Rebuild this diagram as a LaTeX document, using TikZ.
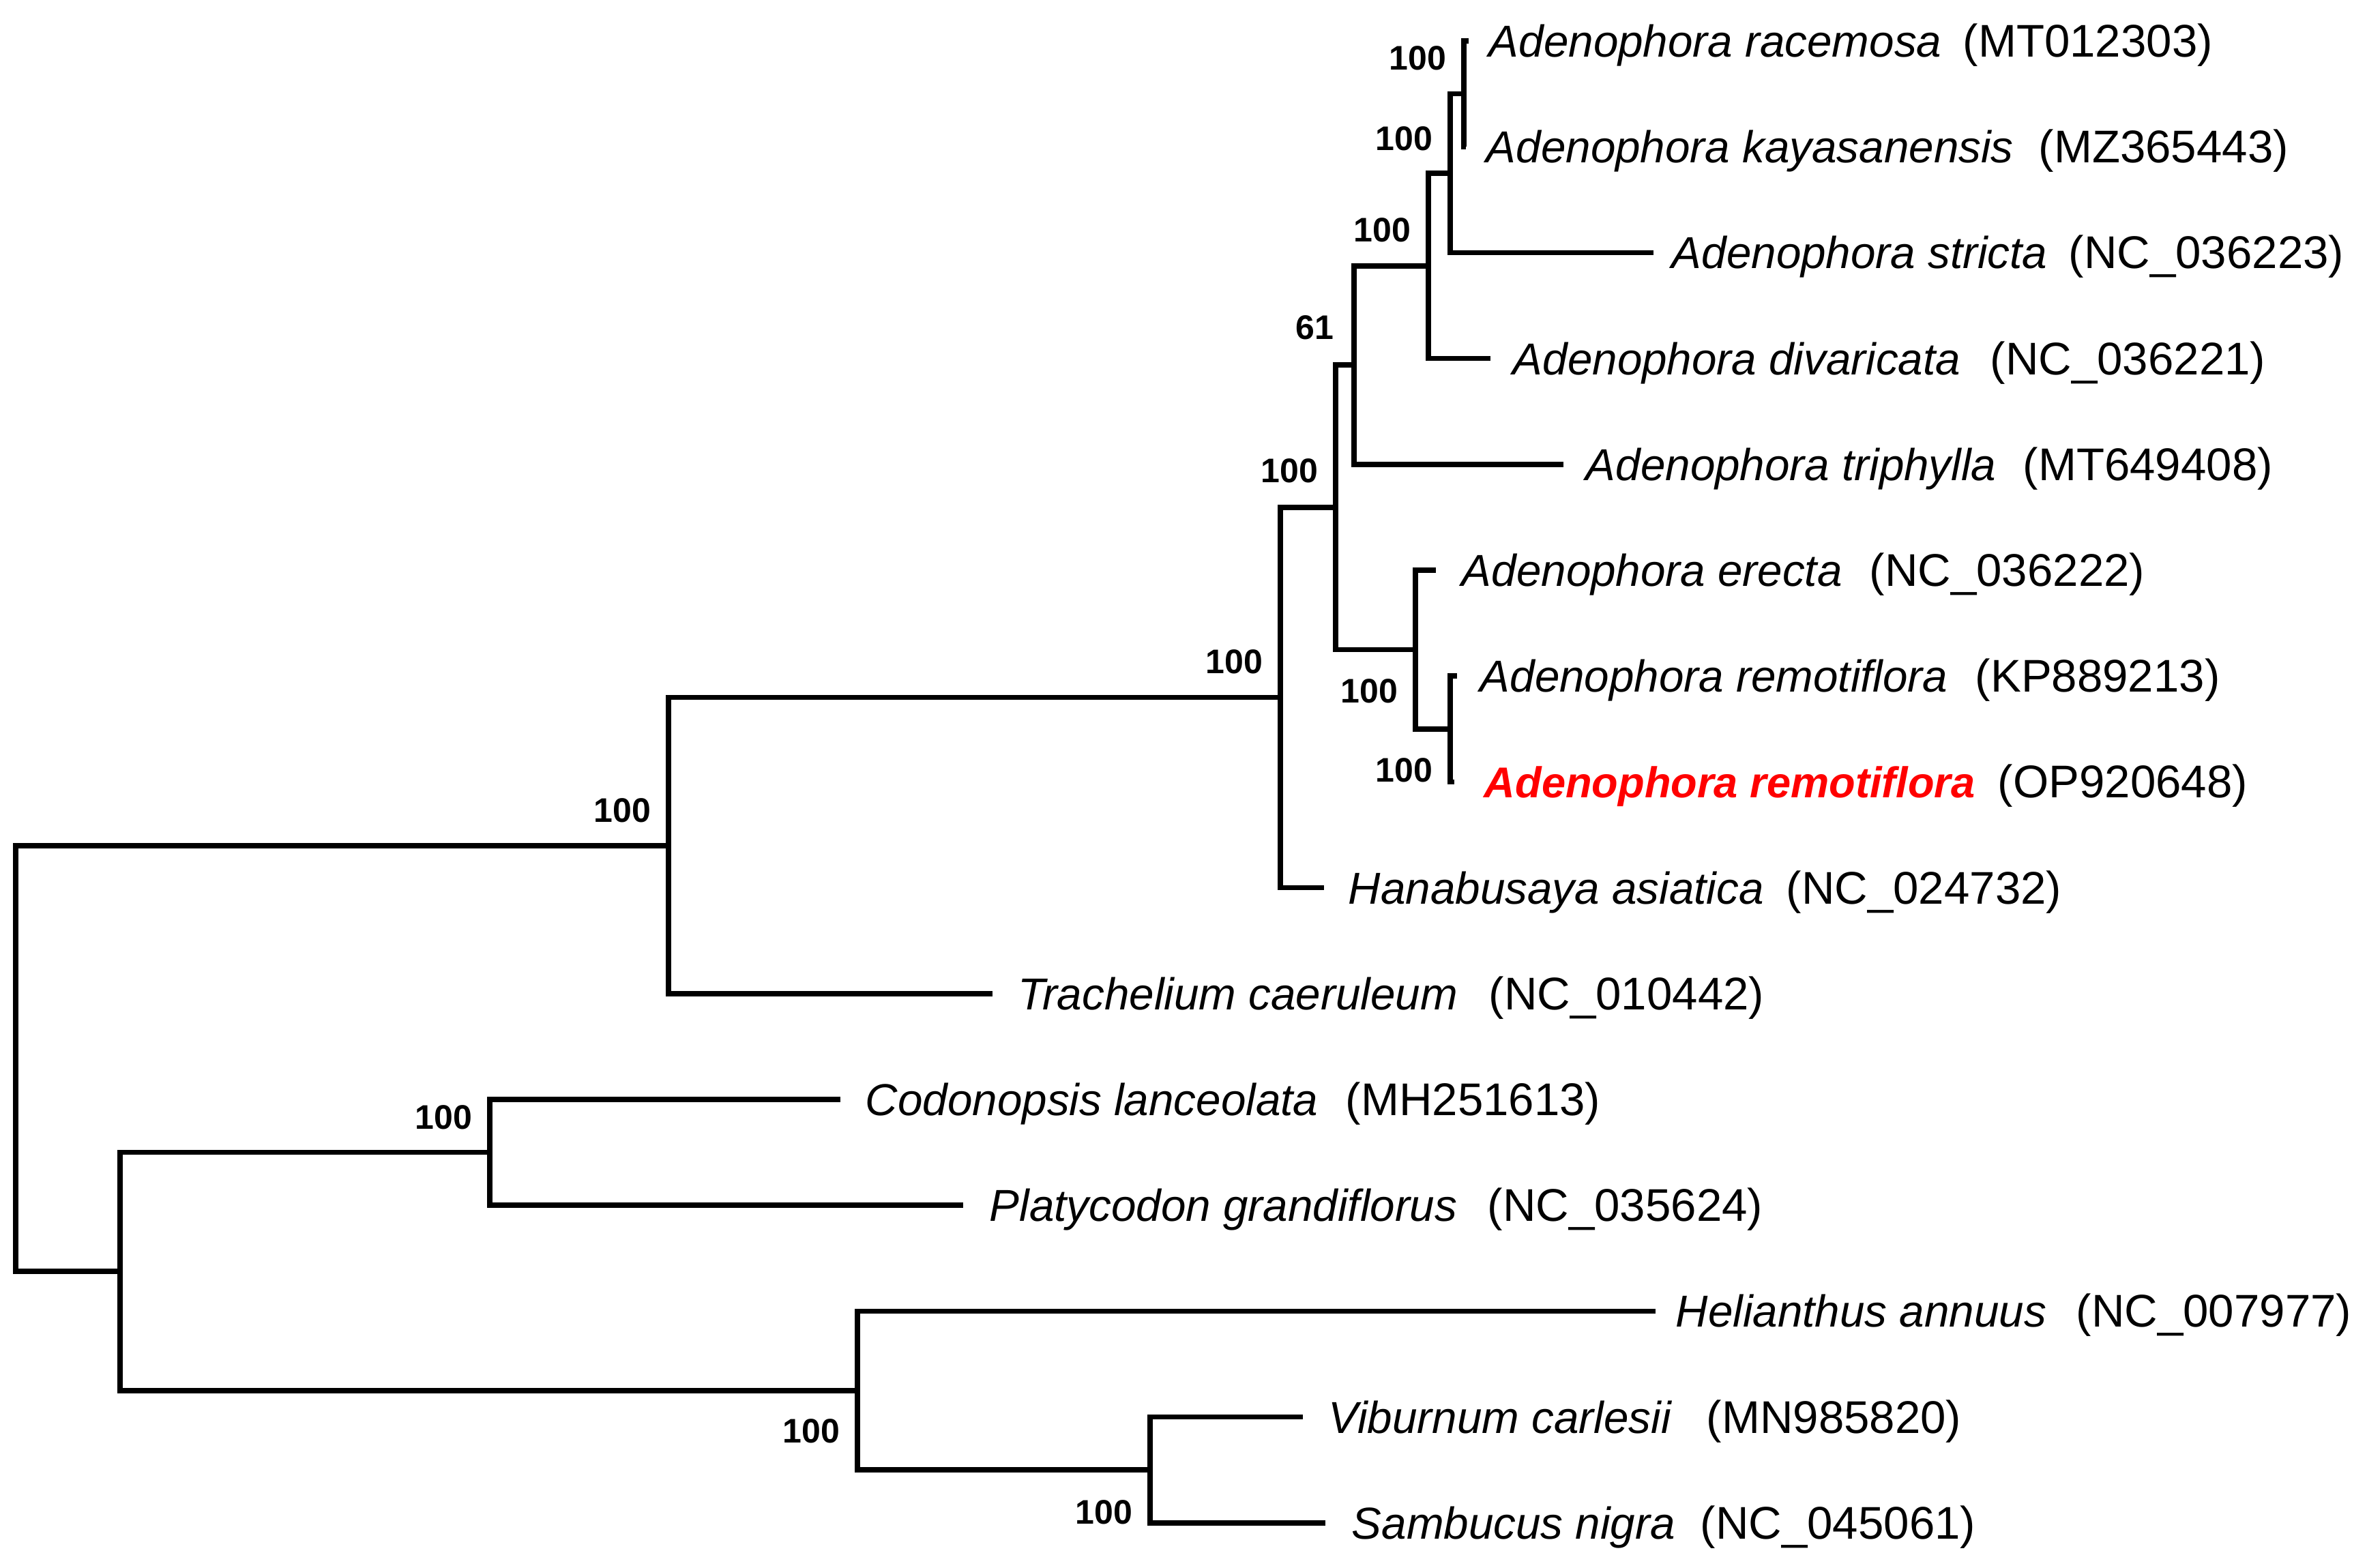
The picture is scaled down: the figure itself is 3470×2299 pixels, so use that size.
\documentclass[tikz,border=0pt]{standalone}
\usepackage{fontspec}
\setmainfont{Liberation Sans}
\begin{document}
\begin{tikzpicture}[x=0.25pt,y=-0.25pt,
  branch/.style={line width=1.9pt, line join=miter},
  sp/.style={anchor=base west, inner sep=0pt, font=\fontsize{16.4}{18}\selectfont\itshape},
  spred/.style={sp, text=red, font=\fontsize{15.8}{18}\selectfont\bfseries\itshape},
  acc/.style={anchor=base west, inner sep=0pt, font=\fontsize{16.8}{19}\selectfont},
  bs/.style={anchor=east, inner sep=0pt, font=\fontsize{12.5}{14}\selectfont\bfseries}]
\useasboundingbox (0,0) rectangle (3470,2299);
% internal nodes
\coordinate (nroot) at (23,1552);
\coordinate (ncamp) at (980,1239.75);
\coordinate (nout) at (176,1864.2);
\coordinate (ncp) at (718,1689.6);
\coordinate (nhvs) at (1257,2038.8);
\coordinate (nvs) at (1686,2155.2);
\coordinate (ncore) at (1877,1022.7);
\coordinate (naden) at (1958,743.85);
\coordinate (n61) at (1985,535.3);
\coordinate (nA) at (2094,389.8);
\coordinate (nB) at (2126,254);
\coordinate (nrk) at (2146,137.6);
\coordinate (nerem) at (2075,952.4);
\coordinate (nrem) at (2126,1068.8);
% tips
\coordinate (t1) at (2153,60);
\coordinate (t2) at (2149,215.2);
\coordinate (t3) at (2424,370.4);
\coordinate (t4) at (2185,525.6);
\coordinate (t5) at (2292,680.8);
\coordinate (t6) at (2105,836);
\coordinate (t7) at (2136,991.2);
\coordinate (t8) at (2132,1146.4);
\coordinate (t9) at (1941,1301.6);
\coordinate (t10) at (1455,1456.8);
\coordinate (t11) at (1232,1612);
\coordinate (t12) at (1412,1767.2);
\coordinate (t13) at (2427,1922.4);
\coordinate (t14) at (1910,2077.6);
\coordinate (t15) at (1943,2232.8);
% branches
\draw[branch] (nroot) |- (ncamp);
\draw[branch] (nroot) |- (nout);
\draw[branch] (ncamp) |- (ncore);
\draw[branch] (ncamp) |- (t10);
\draw[branch] (ncore) |- (naden);
\draw[branch] (ncore) |- (t9);
\draw[branch] (naden) |- (n61);
\draw[branch] (naden) |- (nerem);
\draw[branch] (n61) |- (nA);
\draw[branch] (n61) |- (t5);
\draw[branch] (nA) |- (nB);
\draw[branch] (nA) |- (t4);
\draw[branch] (nB) |- (nrk);
\draw[branch] (nB) |- (t3);
\draw[branch] (nrk) |- (t1);
\draw[branch] (nrk) |- (t2);
\draw[branch] (nerem) |- (t6);
\draw[branch] (nerem) |- (nrem);
\draw[branch] (nrem) |- (t7);
\draw[branch] (nrem) |- (t8);
\draw[branch] (nout) |- (ncp);
\draw[branch] (nout) |- (nhvs);
\draw[branch] (ncp) |- (t11);
\draw[branch] (ncp) |- (t12);
\draw[branch] (nhvs) |- (t13);
\draw[branch] (nhvs) |- (nvs);
\draw[branch] (nvs) |- (t14);
\draw[branch] (nvs) |- (t15);
% species labels
\node[sp] (s1) at (2182,83.5) {Adenophora racemosa};
\node[acc] (a1) at (2877,83.5) {(MT012303)};
\node[sp] (s2) at (2178,238.7) {Adenophora kayasanensis};
\node[acc] (a2) at (2988,238.7) {(MZ365443)};
\node[sp] (s3) at (2450,393.9) {Adenophora stricta};
\node[acc] (a3) at (3032,393.9) {(NC\_036223)};
\node[sp] (s4) at (2217,549.1) {Adenophora divaricata};
\node[acc] (a4) at (2917,549.1) {(NC\_036221)};
\node[sp] (s5) at (2324,704.3) {Adenophora triphylla};
\node[acc] (a5) at (2965,704.3) {(MT649408)};
\node[sp] (s6) at (2142,859.5) {Adenophora erecta};
\node[acc] (a6) at (2740,859.5) {(NC\_036222)};
\node[sp] (s7) at (2169,1014.7) {Adenophora remotiflora};
\node[acc] (a7) at (2895,1014.7) {(KP889213)};
\node[spred] (s8) at (2175,1169.9) {Adenophora remotiflora};
\node[acc] (a8) at (2928,1169.9) {(OP920648)};
\node[sp] (s9) at (1976,1325.1) {Hanabusaya asiatica};
\node[acc] (a9) at (2618,1325.1) {(NC\_024732)};
\node[sp] (s10) at (1492,1480.3) {Trachelium caeruleum};
\node[acc] (a10) at (2182,1480.3) {(NC\_010442)};
\node[sp] (s11) at (1268,1635.5) {Codonopsis lanceolata};
\node[acc] (a11) at (1972,1635.5) {(MH251613)};
\node[sp] (s12) at (1450,1790.7) {Platycodon grandiflorus};
\node[acc] (a12) at (2180,1790.7) {(NC\_035624)};
\node[sp] (s13) at (2456,1945.9) {Helianthus annuus};
\node[acc] (a13) at (3043,1945.9) {(NC\_007977)};
\node[sp] (s14) at (1947,2101.1) {Viburnum carlesii};
\node[acc] (a14) at (2501,2101.1) {(MN985820)};
\node[sp] (s15) at (1981,2256.3) {Sambucus nigra};
\node[acc] (a15) at (2492,2256.3) {(NC\_045061)};
% bootstrap values
\node[bs] (brk) at (2121,85) {100};
\node[bs] (bB) at (2101,203) {100};
\node[bs] (bA) at (2069,337) {100};
\node[bs] (b61) at (1956,480) {61};
\node[bs] (baden) at (1933,690) {100};
\node[bs] (bcore) at (1852,970) {100};
\node[bs] (berem) at (2050,1013) {100};
\node[bs] (brem) at (2101,1129) {100};
\node[bs] (bcamp) at (955,1188) {100};
\node[bs] (bcp) at (693,1638) {100};
\node[bs] (bhvs) at (1232,2098) {100};
\node[bs] (bvs) at (1661,2217) {100};
\end{tikzpicture}
\end{document}
